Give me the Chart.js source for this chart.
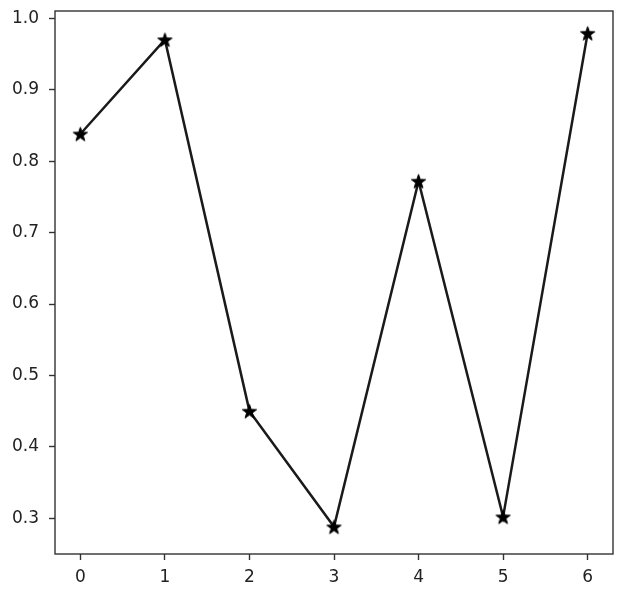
<!DOCTYPE html>
<html>
<head>
<meta charset="utf-8">
<script src="https://cdn.jsdelivr.net/npm/chart.js@4"></script>
<style>
  html, body { margin: 0; padding: 0; background: #fff; }
  #wrap { width: 624px; height: 598px; }
</style>
</head>
<body>
<div id="wrap"><canvas id="chart" width="624" height="598"></canvas></div>
<script>
var xValues = [0, 1, 2, 3, 4, 5, 6];
var yValues = [0.838, 0.970, 0.450, 0.288, 0.772, 0.302, 0.979];
var xTicks = [0, 1, 2, 3, 4, 5, 6];
var yTicks = [0.3, 0.4, 0.5, 0.6, 0.7, 0.8, 0.9, 1.0];

// filled five point star, like matplotlib's '*' marker
function makeStar(r, color) {
    var c = document.createElement('canvas');
    var size = Math.ceil(r * 2 + 2);
    c.width = size;
    c.height = size;
    var g = c.getContext('2d');
    var cx = size / 2, cy = size / 2 + r * 0.1;
    g.beginPath();
    for (var i = 0; i < 10; i++) {
        var rad = (i % 2 === 0) ? r : r * 0.4;
        var ang = -Math.PI / 2 + i * Math.PI / 5;
        var px = cx + rad * Math.cos(ang);
        var py = cy + rad * Math.sin(ang);
        if (i === 0) g.moveTo(px, py); else g.lineTo(px, py);
    }
    g.closePath();
    g.fillStyle = color;
    g.fill();
    g.strokeStyle = color;
    g.lineWidth = 1;
    g.stroke();
    return c;
}

var star = makeStar(7.5, '#000');

var framePlugin = {
    id: 'frame',
    afterDraw: function(chart) {
        var a = chart.chartArea;
        var ctx = chart.ctx;
        ctx.save();
        ctx.strokeStyle = '#333';
        ctx.lineWidth = 1.4;
        ctx.strokeRect(a.left, a.top, a.right - a.left, a.bottom - a.top);
        ctx.restore();
    }
};

var points = [];
for (var i = 0; i < xValues.length; i++) {
    points.push({x: xValues[i], y: yValues[i]});
}

var tickFont = {family: 'DejaVu Sans', size: 17};

new Chart(document.getElementById('chart').getContext('2d'), {
    type: 'line',
    data: {
        datasets: [{
            data: points,
            borderColor: '#1a1a1a',
            borderWidth: 2.5,
            tension: 0,
            fill: false,
            pointStyle: star,
            pointRadius: 7,
            pointHoverRadius: 7
        }]
    },
    options: {
        responsive: false,
        animation: false,
        events: [],
        layout: { padding: { left: 0, top: 11, right: 11, bottom: 0 } },
        plugins: {
            legend: { display: false },
            tooltip: { enabled: false }
        },
        scales: {
            x: {
                type: 'linear',
                min: -0.3,
                max: 6.3,
                afterBuildTicks: function(axis) {
                    axis.ticks = xTicks.map(function(v) { return {value: v}; });
                },
                afterFit: function(axis) {
                    axis.height = 44;
                    axis.paddingLeft = 0;
                    axis.paddingRight = 0;
                },
                grid: { drawOnChartArea: false, drawTicks: true, tickLength: 6, tickWidth: 1.4, tickColor: '#333' },
                border: { display: false },
                ticks: { font: tickFont, color: '#222', padding: 7, maxRotation: 0,
                    callback: function(v) { return String(v); } }
            },
            y: {
                type: 'linear',
                min: 0.25,
                max: 1.0102,
                afterBuildTicks: function(axis) {
                    axis.ticks = yTicks.map(function(v) { return {value: v}; });
                },
                afterFit: function(axis) {
                    axis.width = 55;
                    axis.paddingTop = 0;
                    axis.paddingBottom = 0;
                },
                grid: { drawOnChartArea: false, drawTicks: true, tickLength: 6, tickWidth: 1.4, tickColor: '#333' },
                border: { display: false },
                ticks: { font: tickFont, color: '#222', padding: 10,
                    callback: function(v) { return v.toFixed(1); } }
            }
        }
    },
    plugins: [framePlugin]
});
</script>
</body>
</html>
